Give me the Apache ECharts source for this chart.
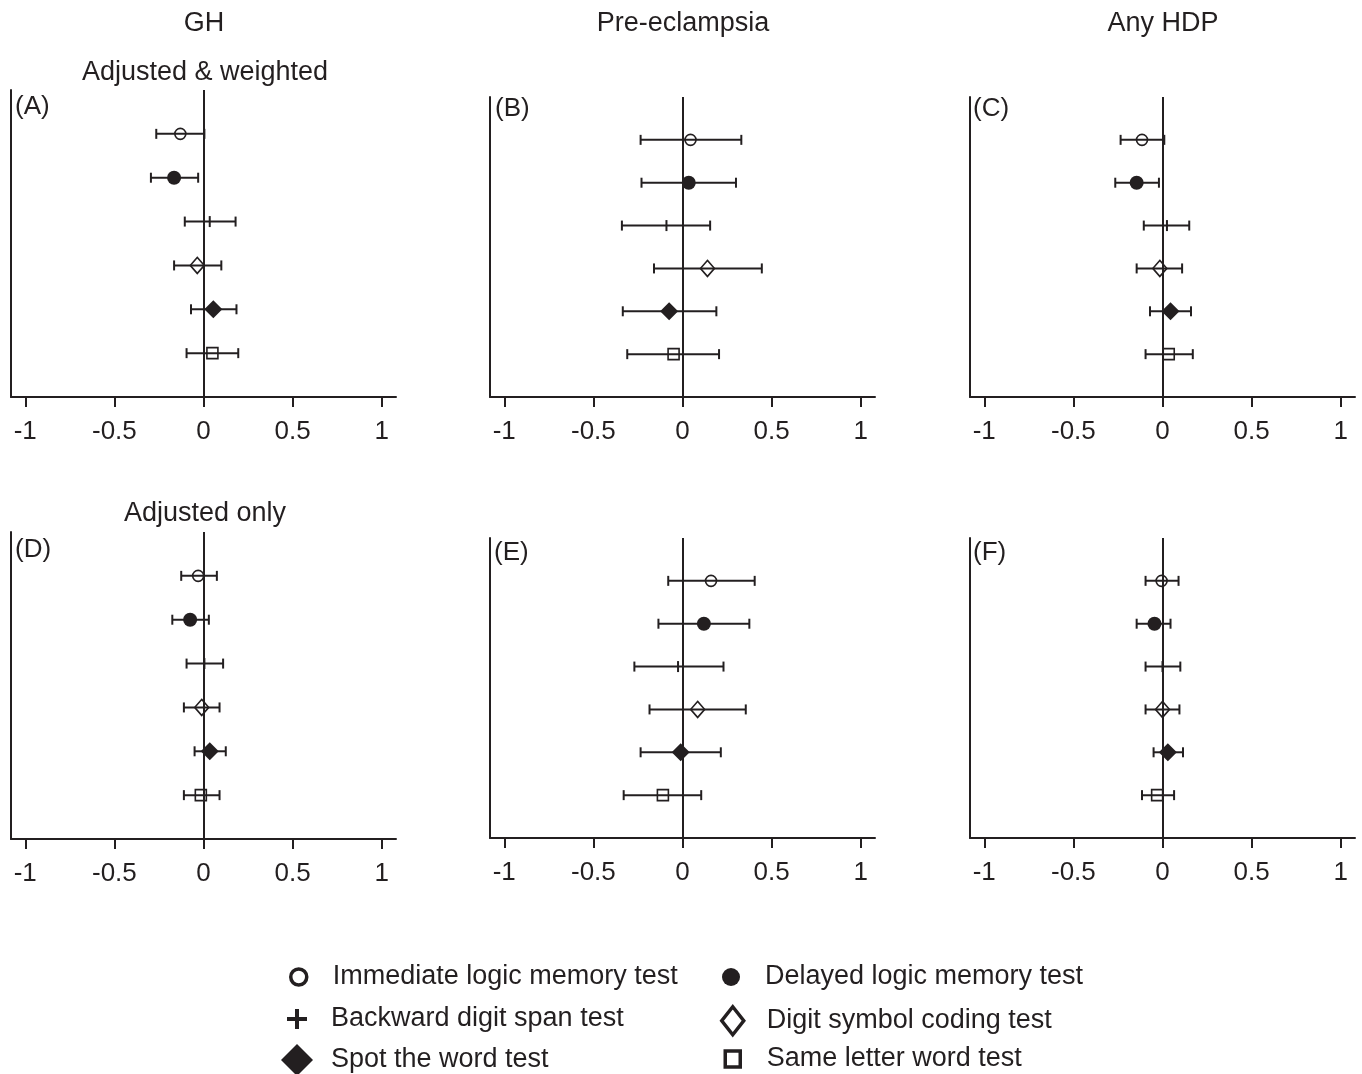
<!DOCTYPE html>
<html>
<head>
<meta charset="utf-8">
<title>HDP cognitive tests</title>
<script src="https://cdn.jsdelivr.net/npm/echarts@6/dist/echarts.min.js"></script>
<style>
  html, body { margin: 0; padding: 0; background: #fff; }
  #chart { width: 1362px; height: 1074px; }
</style>
</head>
<body>
<div id="chart"></div>
<script>
// test names, one row each (top to bottom)
const tests = [
  "Immediate logic memory test",
  "Delayed logic memory test",
  "Backward digit span test",
  "Digit symbol coding test",
  "Spot the word test",
  "Same letter word test",
];
const rows = [1, 2, 3, 4, 5, 6];
const xTicks = [-1, -0.5, 0, 0.5, 1];
const colTitles = ["GH", "Pre-eclampsia", "Any HDP"];
const rowTitles = ["Adjusted & weighted", "Adjusted only"];
const panelLabels = ["(A)", "(B)", "(C)", "(D)", "(E)", "(F)"];

// estimates and 95% CI
const estA = [-0.13, -0.165, 0.035, -0.035, 0.055, 0.05];
const loA = [-0.265, -0.295, -0.105, -0.165, -0.07, -0.095];
const hiA = [0.005, -0.03, 0.18, 0.1, 0.185, 0.195];

const estB = [0.045, 0.035, -0.09, 0.14, -0.075, -0.05];
const loB = [-0.235, -0.23, -0.34, -0.16, -0.335, -0.31];
const hiB = [0.33, 0.3, 0.155, 0.445, 0.19, 0.205];

const estC = [-0.115, -0.145, 0.025, -0.015, 0.045, 0.035];
const loC = [-0.235, -0.265, -0.105, -0.145, -0.07, -0.095];
const hiC = [0.01, -0.02, 0.15, 0.11, 0.16, 0.17];

const estD = [-0.03, -0.075, 0.005, -0.01, 0.035, -0.015];
const loD = [-0.125, -0.175, -0.095, -0.11, -0.05, -0.11];
const hiD = [0.075, 0.03, 0.11, 0.09, 0.125, 0.09];

const estE = [0.16, 0.12, -0.025, 0.085, -0.01, -0.11];
const loE = [-0.08, -0.135, -0.27, -0.185, -0.235, -0.33];
const hiE = [0.405, 0.375, 0.23, 0.355, 0.215, 0.105];

const estF = [-0.005, -0.045, 0, 0, 0.03, -0.03];
const loF = [-0.095, -0.145, -0.095, -0.095, -0.05, -0.115];
const hiF = [0.09, 0.045, 0.1, 0.095, 0.115, 0.065];

const panels = [
  { est: estA, lo: loA, hi: hiA },
  { est: estB, lo: loB, hi: hiB },
  { est: estC, lo: loC, hi: hiC },
  { est: estD, lo: loD, hi: hiD },
  { est: estE, lo: loE, hi: hiE },
  { est: estF, lo: loF, hi: hiF },
];

const ink = "#231f20";
const font = "'Liberation Sans', Arial, Helvetica, sans-serif";

// grid boxes (pixels)
const boxes = [
  { left: 11, top: 90, height: 307 },
  { left: 490, top: 97, height: 300 },
  { left: 970, top: 97, height: 300 },
  { left: 11, top: 532, height: 307 },
  { left: 490, top: 538, height: 300 },
  { left: 970, top: 538, height: 300 },
];
const gridWidth = 385;

const hollow = "rgba(0,0,0,0)";
const marks = [
  { symbol: "circle", size: 11, fill: hollow },
  { symbol: "circle", size: 14, fill: ink },
  { symbol: "path://M0,0h2v10h-2z", size: [2, 11], fill: ink },
  { symbol: "diamond", size: [14, 16], fill: hollow },
  { symbol: "diamond", size: [18, 18], fill: ink },
  { symbol: "rect", size: 11, fill: hollow },
];

// legend icons (cy = wanted text centre)
const legendIcons = [
  { icon: "circle", w: 16, h: 16, cx: 297, cy: 975, style: { color: "#fff", borderColor: ink, borderWidth: 3.5 } },
  { icon: "circle", w: 18, h: 18, cx: 731, cy: 975, style: { color: ink, borderWidth: 0 } },
  { icon: "path://M8,0h4v8h8v4h-8v8h-4v-8h-8v-4h8z", w: 20, h: 20, cx: 297, cy: 1017, style: { color: ink, borderWidth: 0 } },
  { icon: "diamond", w: 22, h: 28, cx: 731, cy: 1017, style: { color: "#fff", borderColor: ink, borderWidth: 3.5 } },
  { icon: "diamond", w: 32, h: 32, cx: 297, cy: 1058, style: { color: ink, borderWidth: 0 } },
  { icon: "rect", w: 15, h: 16, cx: 731, cy: 1057, style: { color: "#fff", borderColor: ink, borderWidth: 3.5 } },
];

function renderBar(params, api) {
  const y = api.value(2);
  const p1 = api.coord([api.value(0), y]);
  const p2 = api.coord([api.value(1), y]);
  const cap = 5;
  const st = { stroke: ink, lineWidth: 2 };
  return {
    type: "group",
    children: [
      { type: "line", shape: { x1: p1[0], y1: p1[1], x2: p2[0], y2: p2[1] }, style: st },
      { type: "line", shape: { x1: p1[0], y1: p1[1] - cap, x2: p1[0], y2: p1[1] + cap }, style: st },
      { type: "line", shape: { x1: p2[0], y1: p2[1] - cap, x2: p2[0], y2: p2[1] + cap }, style: st },
    ],
  };
}

const grid = [];
const xAxis = [];
const yAxis = [];
const series = [];

panels.forEach(function (p, i) {
  grid.push({ left: boxes[i].left, top: boxes[i].top, width: gridWidth, height: boxes[i].height });
  xAxis.push({
    gridIndex: i,
    type: "value",
    min: -1.08,
    max: 1.08,
    splitLine: { show: false },
    axisLine: { show: true, onZero: false, lineStyle: { color: ink, width: 2 } },
    axisTick: { show: true, length: 10, customValues: xTicks, lineStyle: { color: ink, width: 2 } },
    axisLabel: { customValues: xTicks, fontSize: 26, color: ink, fontFamily: font, margin: 22 },
  });
  yAxis.push({
    gridIndex: i,
    type: "value",
    min: 0,
    max: 7,
    inverse: true,
    splitLine: { show: false },
    axisTick: { show: false },
    axisLabel: { show: false },
    axisLine: { show: true, onZero: false, lineStyle: { color: ink, width: 2 } },
  });
  series.push({
    type: "custom",
    xAxisIndex: i,
    yAxisIndex: i,
    renderItem: renderBar,
    encode: { x: [0, 1], y: 2 },
    data: rows.map(function (r, k) { return [p.lo[k], p.hi[k], r]; }),
    silent: true,
    z: 2,
    markLine: {
      silent: true,
      symbol: "none",
      label: { show: false },
      lineStyle: { color: ink, width: 2, type: "solid" },
      data: [{ xAxis: 0 }],
    },
  });
  tests.forEach(function (name, k) {
    const m = marks[k];
    series.push({
      type: "scatter",
      name: name,
      xAxisIndex: i,
      yAxisIndex: i,
      symbol: m.symbol,
      symbolSize: m.size,
      itemStyle: { color: m.fill, borderColor: ink, borderWidth: m.fill === hollow ? 1.6 : 0, opacity: 1 },
      data: [[p.est[k], rows[k]]],
      silent: true,
      z: 3,
    });
  });
});

const titles = [];
const colCenters = [204, 683, 1163];
colTitles.forEach(function (t, i) {
  titles.push({ text: t, left: colCenters[i], top: 10, textAlign: "center", padding: 0,
    textStyle: { fontSize: 27, fontWeight: "normal", color: ink, fontFamily: font } });
});
const rowTitleTops = [59, 500];
rowTitles.forEach(function (t, i) {
  titles.push({ text: t, left: 205, top: rowTitleTops[i], textAlign: "center", padding: 0,
    textStyle: { fontSize: 27, fontWeight: "normal", color: ink, fontFamily: font } });
});
const labelPos = [[15, 94], [495, 96], [973, 96], [15, 537], [494, 540], [973, 540]];
panelLabels.forEach(function (t, i) {
  titles.push({ text: t, left: labelPos[i][0], top: labelPos[i][1], padding: 0,
    textStyle: { fontSize: 26, fontWeight: "normal", color: ink, fontFamily: font } });
});

const legendFont = 27;
const textLeft = [332, 766, 332, 766, 332, 766];
const legend = legendIcons.map(function (ic, k) {
  const left = ic.cx - ic.w / 2;
  // the legend box is as tall as the larger of icon and text
  const boxH = Math.max(ic.h, legendFont);
  return {
    left: left,
    top: ic.cy + 2 - boxH / 2,
    padding: 0,
    itemWidth: ic.w,
    itemHeight: ic.h,
    selectedMode: false,
    data: [{ name: tests[k], icon: ic.icon, itemStyle: ic.style }],
    textStyle: { fontSize: legendFont, color: ink, fontFamily: font, padding: [0, 0, 0, textLeft[k] - (left + ic.w + 5) - 1] },
  };
});

const chart = echarts.init(document.getElementById("chart"), null, { renderer: "canvas" });
chart.setOption({
  backgroundColor: "#fff",
  animation: false,
  title: titles,
  legend: legend,
  grid: grid,
  xAxis: xAxis,
  yAxis: yAxis,
  series: series,
});
</script>
</body>
</html>
